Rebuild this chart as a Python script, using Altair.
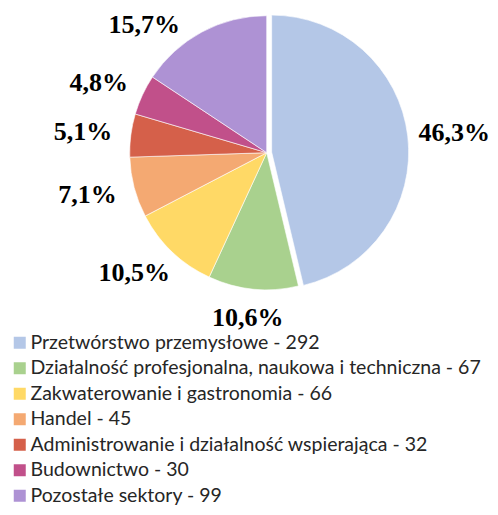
import math
import altair as alt
import pandas as pd

categories = [
    "Przetwórstwo przemysłowe",
    "Działalność profesjonalna, naukowa i techniczna",
    "Zakwaterowanie i gastronomia",
    "Handel",
    "Administrowanie i działalność wspierająca",
    "Budownictwo",
    "Pozostałe sektory",
]
values = [292, 67, 66, 45, 32, 30, 99]
colors = ["#B4C7E7", "#A9D18E", "#FFD966", "#F4A972", "#D5604A", "#C1508A", "#AE92D4"]

total = sum(values)
legend_labels = [f"{c} - {v}" for c, v in zip(categories, values)]
pct_labels = [f"{v / total * 100:.1f}".replace(".", ",") + "%" for v in values]

# layout constants
W, H = 482, 499
CX, CY, R = 258.7, 144.7, 137
EXPLODE = 5
LABEL_R = 156
FS = 26
HALF_H = 10
Y_MIN = 17

# slice mid angles
mids = []
cum = 0
for v in values:
    mids.append((cum + v / 2) / total * 2 * math.pi)
    cum += v

ex_dx = EXPLODE * math.sin(mids[0])
ex_dy = -EXPLODE * math.cos(mids[0])


def text_half_w(s):
    w = 0
    for ch in s:
        w += 0.25 if ch == "," else (1.0 if ch == "%" else 0.5)
    return w * FS / 2


lab_ang, lab_dist = [], []
for i, (a, s) in enumerate(zip(mids, pct_labels)):
    w = text_half_w(s)
    ox, oy = (ex_dx, ex_dy) if i == 0 else (0, 0)
    ux, uy = math.sin(a), -math.cos(a)
    px = CX + ox + LABEL_R * ux + w * ux
    py = CY + oy + LABEL_R * uy + HALF_H * uy
    if py < Y_MIN:
        c = (CY - Y_MIN) / (LABEL_R + HALF_H)
        a2 = -math.acos(c) if ux < 0 else math.acos(c)
        px = CX + (LABEL_R + w) * math.sin(a2)
        py = Y_MIN
    px = min(px, W - w)
    dx, dy = px - CX, py - CY
    lab_dist.append(math.hypot(dx, dy))
    lab_ang.append(math.atan2(dx, -dy))

df = pd.DataFrame({
    "idx": list(range(len(values))),
    "cat": legend_labels,
    "value": values,
})
lab_df = pd.DataFrame({"pct": pct_labels, "ang": lab_ang, "dist": lab_dist})

color = alt.Color(
    "cat:N",
    sort=legend_labels,
    scale=alt.Scale(domain=legend_labels, range=colors),
    legend=alt.Legend(
        orient="none",
        legendX=2,
        legendY=325,
        title=None,
        symbolType="square",
        symbolSize=144,
        symbolStrokeWidth=0,
        labelFont="Lato",
        labelFontSize=19.5,
        labelColor="#262626",
        labelLimit=0,
        labelOffset=1,
        rowPadding=4.5,
        padding=0,
    ),
)

base = alt.Chart(df).mark_arc(radius=R, stroke="white", strokeWidth=0.6)

rest = base.encode(
    theta=alt.Theta("value:Q", stack=True),
    order=alt.Order("idx:Q"),
    color=color,
    opacity=alt.condition("datum.idx == 0", alt.value(0), alt.value(1)),
    x=alt.value(CX),
    y=alt.value(CY),
)

exploded = base.encode(
    theta=alt.Theta("value:Q", stack=True),
    order=alt.Order("idx:Q"),
    color=color,
    opacity=alt.condition("datum.idx == 0", alt.value(1), alt.value(0)),
    x=alt.value(CX + ex_dx),
    y=alt.value(CY + ex_dy),
)

labels = alt.Chart(lab_df).mark_text(
    font="Liberation Serif",
    fontWeight="bold",
    fontSize=FS,
    color="black",
    align="center",
    baseline="middle",
).encode(
    theta=alt.Theta("ang:Q", scale=None),
    radius=alt.Radius("dist:Q", scale=None),
    text="pct:N",
    x=alt.value(CX),
    y=alt.value(CY),
)

chart = (
    alt.layer(rest, exploded, labels)
    .properties(width=W, height=H, padding=0, autosize=alt.AutoSizeParams(type="none"))
    .configure_view(stroke=None)
)

chart.save("out.html", embed_options={"renderer": "svg", "actions": False})
